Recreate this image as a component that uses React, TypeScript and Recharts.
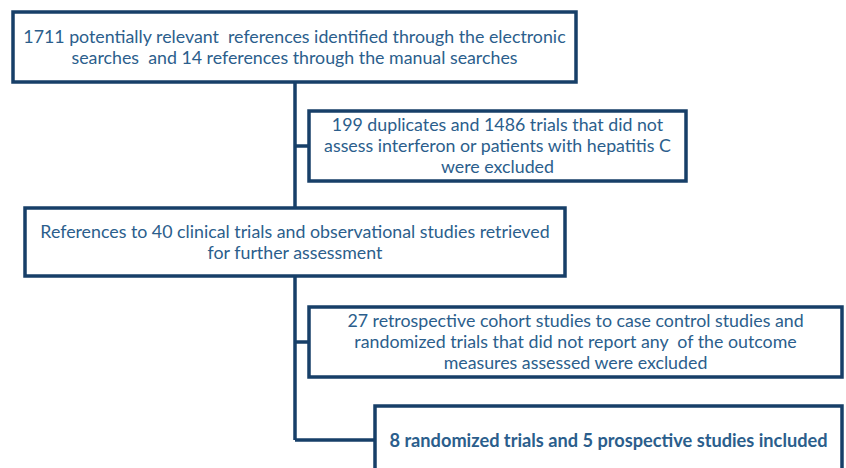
import {
  ComposedChart,
  XAxis,
  YAxis,
  ReferenceArea,
  ReferenceLine,
} from "recharts";

// box texts, top to bottom
const identified = [
  "1711 potentially relevant  references identified through the electronic",
  "searches  and 14 references through the manual searches",
];
const excludedFirst = [
  "199 duplicates and 1486 trials that did not",
  "assess interferon or patients with hepatitis C",
  "were excluded",
];
const retrieved = [
  "References to 40 clinical trials and observational studies retrieved",
  "for further assessment",
];
const excludedSecond = [
  "27 retrospective cohort studies to case control studies and",
  "randomized trials that did not report any  of the outcome",
  "measures assessed were excluded",
];
const included = ["8 randomized trials and 5 prospective studies included"];

const W = 846;
const H = 468;
const BORDER = "#173f68";
const TEXT = "#2b5e8c";
const FONT = "Lato, 'Open Sans', sans-serif";

// layout in page pixels
const boxes = [
  { lines: identified, x1: 13, x2: 576, y1: 12, y2: 82, bold: false },
  { lines: excludedFirst, x1: 309, x2: 686, y1: 111, y2: 181, bold: false },
  { lines: retrieved, x1: 25, x2: 565, y1: 208, y2: 276, bold: false },
  { lines: excludedSecond, x1: 309, x2: 842, y1: 307, y2: 377, bold: false },
  { lines: included, x1: 375, x2: 842, y1: 406, y2: 474, bold: true },
];

const links: { x: number; y: number }[][] = [
  [{ x: 295, y: 82 }, { x: 295, y: 208 }],
  [{ x: 295, y: 146 }, { x: 309, y: 146 }],
  [{ x: 295, y: 276 }, { x: 295, y: 440 }],
  [{ x: 295, y: 342 }, { x: 309, y: 342 }],
  [{ x: 295, y: 440 }, { x: 375, y: 440 }],
];

function BoxText(lines: string[], bold: boolean, cy?: number) {
  return (props: any) => {
    const vb = props.viewBox || {};
    const cx = vb.x + vb.width / 2;
    const mid = cy !== undefined ? cy : vb.y + vb.height / 2 - 1;
    const lh = 21;
    const top = mid - ((lines.length - 1) * lh) / 2;
    return (
      <text
        textAnchor="middle"
        fontFamily={FONT}
        fontSize={bold ? 18.2 : 17.8}
        fontWeight={bold ? 700 : 400}
        fill={TEXT}
        style={{ whiteSpace: "pre" }}
      >
        {lines.map((l, i) => (
          <tspan key={i} x={cx} y={top + i * lh} dominantBaseline="central">
            {l}
          </tspan>
        ))}
      </text>
    );
  };
}

export default function App() {
  return (
    <div style={{ position: "absolute", left: 0, top: 0, background: "#fff" }}>
      <ComposedChart
        width={W}
        height={H}
        margin={{ top: 0, right: 0, bottom: 0, left: 0 }}
      >
        <XAxis type="number" dataKey="x" domain={[0, W]} allowDataOverflow hide />
        <YAxis
          type="number"
          dataKey="y"
          domain={[0, H]}
          reversed
          allowDataOverflow
          hide
        />
        {links.map((seg, i) => (
          <ReferenceLine
            key={"l" + i}
            segment={seg}
            stroke={BORDER}
            strokeWidth={3.5}
            ifOverflow="visible"
          />
        ))}
        {boxes.map((b, i) => (
          <ReferenceArea
            key={"b" + i}
            x1={b.x1}
            x2={b.x2}
            y1={b.y1}
            y2={b.y2}
            fill="#ffffff"
            fillOpacity={1}
            stroke={BORDER}
            strokeWidth={3.5}
            ifOverflow="visible"
            label={BoxText(b.lines, b.bold, i === 4 ? 440 : undefined)}
          />
        ))}
      </ComposedChart>
    </div>
  );
}
